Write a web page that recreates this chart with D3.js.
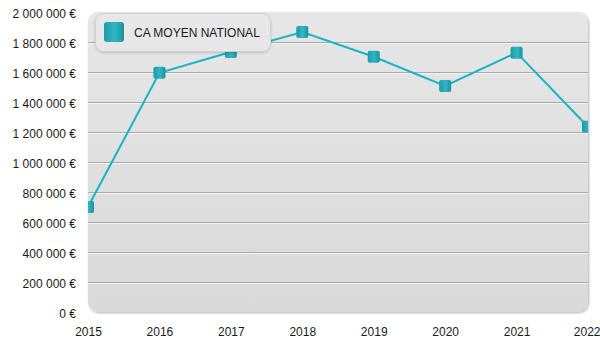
<!DOCTYPE html>
<html>
<head>
<meta charset="utf-8">
<script src="https://cdn.jsdelivr.net/npm/d3@7"></script>
<style>
  html, body { margin: 0; padding: 0; background: #ffffff; }
  svg { display: block; font-family: "Liberation Sans", Arial, sans-serif; }
</style>
</head>
<body>
<svg id="chart" width="600" height="350"></svg>
<script>
// Average national revenue per year
const years = ["2015", "2016", "2017", "2018", "2019", "2020", "2021", "2022"];
const caMoyen = [700000, 1595000, 1733000, 1866000, 1702000, 1507000, 1729000, 1235000];
const yTicks = [0, 200000, 400000, 600000, 800000, 1000000, 1200000, 1400000, 1600000, 1800000, 2000000];
const seriesName = "CA MOYEN NATIONAL";

const W = 600, H = 350;
const svg = d3.select("#chart");
const plot = { left: 88, right: 588, top: 12, bottom: 312 };

const x = d3.scalePoint().domain(years).range([plot.left, plot.right]);
const y = d3.scaleLinear().domain([0, 2000000]).range([plot.bottom, plot.top]);

const fmt = v => d3.format(",")(v).replace(/,/g, " ") + " €";

const defs = svg.append("defs");

const bg = defs.append("linearGradient").attr("id", "panelBg")
  .attr("x1", 0).attr("y1", 0).attr("x2", 0).attr("y2", 1);
bg.append("stop").attr("offset", "0%").attr("stop-color", "#e6e6e6");
bg.append("stop").attr("offset", "100%").attr("stop-color", "#d9d9d9");

const mk = defs.append("linearGradient").attr("id", "markerFill")
  .attr("x1", 0).attr("y1", 0).attr("x2", 1).attr("y2", 0);
mk.append("stop").attr("offset", "0%").attr("stop-color", "#1e9aaa");
mk.append("stop").attr("offset", "55%").attr("stop-color", "#2eb6c4");
mk.append("stop").attr("offset", "100%").attr("stop-color", "#1b8f9e");

const shadow = defs.append("filter").attr("id", "panelShadow")
  .attr("x", "-5%").attr("y", "-5%").attr("width", "110%").attr("height", "115%");
shadow.append("feDropShadow").attr("dx", 1).attr("dy", 1).attr("stdDeviation", 1)
  .attr("flood-color", "#000").attr("flood-opacity", 0.3);

const legShadow = defs.append("filter").attr("id", "legendShadow")
  .attr("x", "-10%").attr("y", "-20%").attr("width", "120%").attr("height", "150%");
legShadow.append("feDropShadow").attr("dx", 0).attr("dy", 1).attr("stdDeviation", 0.8)
  .attr("flood-color", "#000").attr("flood-opacity", 0.18);

defs.append("clipPath").attr("id", "plotClip")
  .append("rect")
  .attr("x", plot.left).attr("y", plot.top)
  .attr("width", plot.right - plot.left).attr("height", plot.bottom - plot.top);

// panel
svg.append("rect")
  .attr("x", plot.left).attr("y", plot.top)
  .attr("width", plot.right - plot.left).attr("height", plot.bottom - plot.top)
  .attr("rx", 10).attr("ry", 10)
  .attr("fill", "url(#panelBg)")
  .attr("filter", "url(#panelShadow)");

// gridlines (embossed: grey line with light line under it)
const grid = svg.append("g");
const gridVals = yTicks.filter(v => v > 0 && v < 2000000);
grid.selectAll("line.g1").data(gridVals).join("line")
  .attr("x1", plot.left).attr("x2", plot.right)
  .attr("y1", d => Math.round(y(d)) + 0.5).attr("y2", d => Math.round(y(d)) + 0.5)
  .attr("stroke", "#a9a9a9").attr("stroke-width", 1);
grid.selectAll("line.g2").data(gridVals).join("line")
  .attr("x1", plot.left).attr("x2", plot.right)
  .attr("y1", d => Math.round(y(d)) + 1.5).attr("y2", d => Math.round(y(d)) + 1.5)
  .attr("stroke", "#f4f4f4").attr("stroke-width", 1);

// y axis
const yAxis = svg.append("g")
  .attr("transform", `translate(${plot.left - 12},2)`)
  .call(d3.axisLeft(y).tickValues(yTicks).tickFormat(fmt).tickSize(0).tickPadding(0));
yAxis.select(".domain").remove();
yAxis.selectAll("text")
  .attr("font-size", 12).attr("fill", "#1a1a1a")
  .attr("font-family", "Liberation Sans, Arial, sans-serif")
  .attr("dy", "0.32em");

// x axis (labels on a common baseline)
const xAxis = svg.append("g")
  .attr("transform", `translate(0,336)`)
  .call(d3.axisBottom(x).tickSize(0).tickPadding(0));
xAxis.select(".domain").remove();
xAxis.selectAll("text")
  .attr("font-size", 12).attr("fill", "#1a1a1a")
  .attr("font-family", "Liberation Sans, Arial, sans-serif")
  .attr("y", 0)
  .attr("dy", 0);
// keep the last label inside the canvas
xAxis.selectAll(".tick").each(function (d) {
  const t = d3.select(this).select("text");
  const w = t.node().getComputedTextLength();
  const overflow = x(d) + w / 2 - W;
  if (overflow > 0) t.attr("x", -overflow);
});

// series
const data = years.map((yr, i) => ({ yr, v: caMoyen[i] }));
const series = svg.append("g").attr("clip-path", "url(#plotClip)");
series.append("path")
  .datum(data)
  .attr("fill", "none")
  .attr("stroke", "#17b3c6")
  .attr("stroke-width", 2)
  .attr("d", d3.line().x(d => x(d.yr)).y(d => y(d.v)));
series.selectAll("rect.marker").data(data).join("rect")
  .attr("class", "marker")
  .attr("x", d => x(d.yr) - 6).attr("y", d => y(d.v) - 6)
  .attr("width", 12).attr("height", 12)
  .attr("rx", 2).attr("ry", 2)
  .attr("fill", "url(#markerFill)");

// legend
const legend = svg.append("g");
legend.append("rect")
  .attr("x", 95.5).attr("y", 13.5).attr("width", 175).attr("height", 38)
  .attr("rx", 8).attr("ry", 8)
  .attr("fill", "#e7e7e7")
  .attr("stroke", "#cfcfcf").attr("stroke-width", 1)
  .attr("filter", "url(#legendShadow)");
legend.append("rect")
  .attr("x", 104).attr("y", 22).attr("width", 20).attr("height", 20)
  .attr("rx", 3).attr("ry", 3)
  .attr("fill", "url(#markerFill)");
legend.append("text")
  .attr("x", 134).attr("y", 37)
  .attr("font-size", 12).attr("fill", "#1a1a1a")
  .attr("font-family", "Liberation Sans, Arial, sans-serif")
  .text(seriesName);
</script>
</body>
</html>
